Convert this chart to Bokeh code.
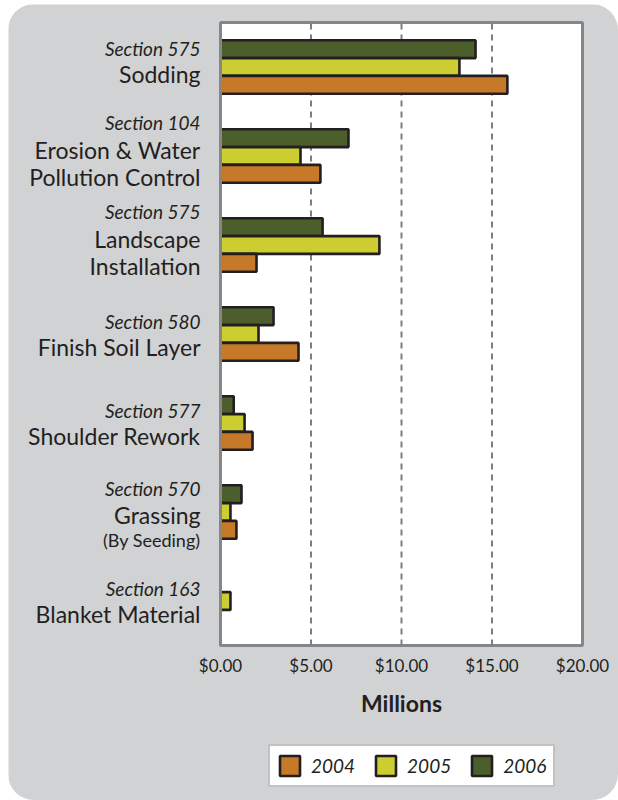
from bokeh.plotting import figure
from bokeh.models import ColumnDataSource, Range1d, Legend, LegendItem
from bokeh.transform import dodge
from bokeh.core.properties import value
from bokeh.embed import file_html
from bokeh.resources import INLINE

categories = ["Sodding", "Erosion & Water Pollution Control", "Landscape Installation",
              "Finish Soil Layer", "Shoulder Rework", "Grassing (By Seeding)", "Blanket Material"]
sections = ["Section 575", "Section 104", "Section 575", "Section 580",
            "Section 577", "Section 570", "Section 163"]
name_lines = [["Sodding"], ["Erosion & Water", "Pollution Control"], ["Landscape", "Installation"],
              ["Finish Soil Layer"], ["Shoulder Rework"], ["Grassing"], ["Blanket Material"]]
notes = ["", "", "", "", "", "(By Seeding)", ""]

years = ["2004", "2005", "2006"]
v2004 = [15.85, 5.52, 1.99, 4.31, 1.77, 0.88, 0.0]
v2005 = [13.2, 4.42, 8.78, 2.10, 1.33, 0.55, 0.55]
v2006 = [14.09, 7.07, 5.64, 2.93, 0.73, 1.16, 0.0]
x_ticks = [0, 5, 10, 15, 20]
tick_labels = ["$0.00", "$5.00", "$10.00", "$15.00", "$20.00"]
x_title = "Millions"

colors = {"2004": "#c7792a", "2005": "#cccd31", "2006": "#4c5e2c"}
TXT = "#231f20"
BG = "#d1d2d4"
FRAME = "#858688"
FONT = "Lato"

n = len(categories)
ypos = [n - 1 - i for i in range(n)]          # first category on top
y_lo, y_hi = -0.5, n - 0.5
x_lo, x_hi = x_ticks[0], x_ticks[-1]

W, H = 610, 796
FL, FR, FT, FB = 212, 36, 18, 155               # plot-area margins in px
ppx = (W - FL - FR) / (x_hi - x_lo)
ppy = (H - FT - FB) / (y_hi - y_lo)

p = figure(width=W, height=H, output_backend="svg", toolbar_location=None,
           x_range=Range1d(x_lo - FL / ppx, x_hi + FR / ppx),
           y_range=Range1d(y_lo - FB / ppy, y_hi + FT / ppy),
           min_border=0, min_border_left=0, min_border_right=0,
           min_border_top=0, min_border_bottom=0)
p.styles = {"border-radius": "26px", "overflow": "hidden", "margin-left": "8px", "margin-top": "4px"}
p.background_fill_color = BG
p.border_fill_color = BG
p.outline_line_color = None
p.grid.visible = False
p.axis.visible = False

# white plot area
p.quad(left=[x_lo], right=[x_hi], bottom=[y_lo], top=[y_hi], fill_color="white",
       line_color=FRAME, line_width=3)
# dashed grid lines
inner = x_ticks[1:-1]
p.segment(x0=inner, x1=inner, y0=[y_lo] * len(inner), y1=[y_hi] * len(inner),
          line_color="#7d7e80", line_width=2, line_dash="6 5")

src = ColumnDataSource(dict(y=ypos, y2004=v2004, y2005=v2005, y2006=v2006))
offsets = {"2006": 0.2, "2005": 0.0, "2004": -0.2}
fields = {"2004": "y2004", "2005": "y2005", "2006": "y2006"}
rends = {}
for yr in ["2006", "2005", "2004"]:
    rends[yr] = p.hbar(y=dodge("y", offsets[yr]), right=fields[yr], left=0,
                       height=0.2, source=src, fill_color=colors[yr],
                       line_color=TXT, line_width=2.6)
# redraw left border over bars
p.segment(x0=[x_lo], x1=[x_lo], y0=[y_lo], y1=[y_hi], line_color=FRAME, line_width=3)

# x tick labels and title
p.text(x=x_ticks, y=[y_lo] * len(x_ticks), text=tick_labels, y_offset=20,
       text_align="center", text_baseline="middle", text_font=value(FONT),
       text_font_size="17px", text_color=TXT)
p.text(x=[(x_lo + x_hi) / 2], y=[y_lo], text=[x_title], y_offset=57,
       text_align="center", text_baseline="middle", text_font=value(FONT),
       text_font_size="23px", text_font_style="bold", text_color=TXT)

# category labels
sy, soff = [], []
ny, ntext, noff = [], [], []
ey, etext, eoff = [], [], []
for i, (yv, sec, lines, note) in enumerate(zip(ypos, sections, name_lines, notes)):
    if len(lines) == 2:
        so, lo = -34, [-6, 21]
    elif note:
        so, lo = -24, [3]
    elif i == 0:
        so, lo = -19, [7]
    else:
        so, lo = -13, [13]
    sy.append(yv); soff.append(so)
    for ln, o in zip(lines, lo):
        ny.append(yv); ntext.append(ln); noff.append(o)
    if note:
        ey.append(yv); etext.append(note); eoff.append(28)

p.text(x=[0] * len(sy), y=sy, text=sections, y_offset=soff, x_offset=-20, text_align="right",
       text_baseline="middle", text_font=value(FONT), text_font_style="italic",
       text_font_size="19px", text_color=TXT)
p.text(x=[0] * len(ny), y=ny, text=ntext, y_offset=noff, x_offset=-20, text_align="right",
       text_baseline="middle", text_font=value(FONT), text_font_size="23px", text_color=TXT)
p.text(x=[0] * len(ey), y=ey, text=etext, y_offset=eoff, x_offset=-20, text_align="right",
       text_baseline="middle", text_font=value(FONT), text_font_size="18px", text_color=TXT)

legend = Legend(items=[LegendItem(label=yr, renderers=[rends[yr]]) for yr in years],
                orientation="horizontal", location=(260, 13),
                glyph_width=25, glyph_height=25, label_text_font=FONT,
                label_text_font_style="italic", label_text_font_size="19px",
                label_text_color=TXT, border_line_color=FRAME, border_line_width=2.5,
                background_fill_color="white", background_fill_alpha=1.0,
                padding=7, spacing=18, label_standoff=9, margin=0)
p.add_layout(legend, "center")

open("out.html", "w").write(file_html(p, INLINE))
